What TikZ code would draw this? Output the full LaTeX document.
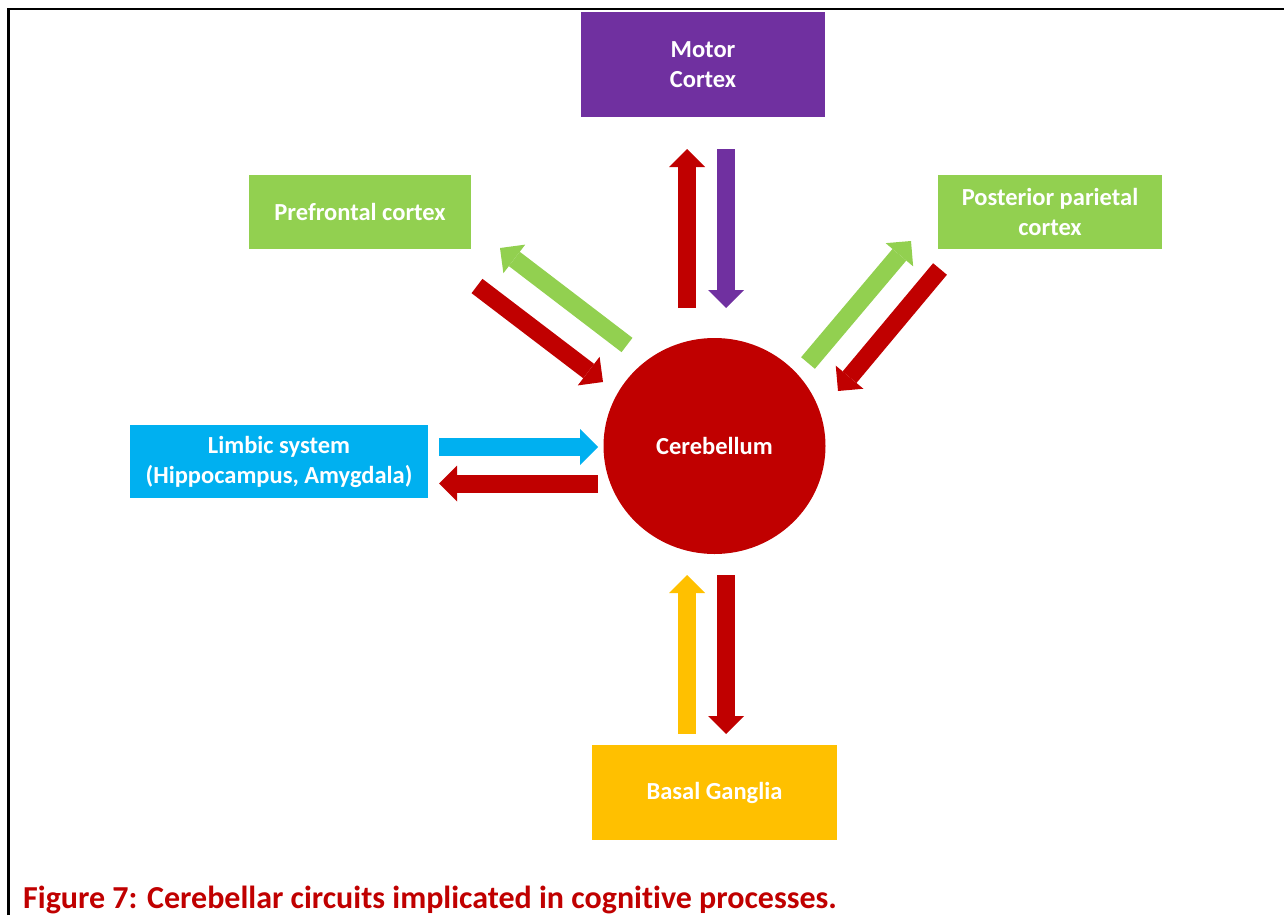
\documentclass[tikz,border=0pt]{standalone}
\usepackage{fontspec}
\setmainfont[Ligatures=NoCommon]{Carlito}
\usetikzlibrary{arrows.meta,shapes.geometric}
\definecolor{cred}{HTML}{C00000}
\definecolor{cpurple}{HTML}{7030A0}
\definecolor{cgreen}{HTML}{92D050}
\definecolor{cblue}{HTML}{00B0F0}
\definecolor{cyellow}{HTML}{FFC000}
\begin{document}
\begin{tikzpicture}[x=1pt,y=-1pt,
  box/.style={rectangle, inner sep=0pt, text=white, align=center,
    font=\fontsize{24.5}{30}\selectfont\bfseries},
  barrow/.style={line width=18pt, -{Triangle[width=36pt,length=18pt,line width=0pt]}}]
\useasboundingbox (0,0) rectangle (1284,915);
% frame
\draw[line width=2.5pt] (8.5,915) -- (8.5,9) -- (1284,9);
% boxes
\node[box, fill=cpurple, minimum width=244pt, minimum height=105pt] (motor) at (703,64.5) {Motor\\Cortex};
\node[box, fill=cgreen, minimum width=222pt, minimum height=74pt] (pref) at (360,212) {Prefrontal cortex};
\node[box, fill=cgreen, minimum width=224pt, minimum height=74pt] (post) at (1050,212) {Posterior parietal\\cortex};
\node[box, fill=cblue, minimum width=298pt, minimum height=73pt] (limb) at (279,461.5) {Limbic system\\(Hippocampus, Amygdala)};
\node[box, fill=cyellow, minimum width=245pt, minimum height=95pt] (basal) at (714.5,792.5) {Basal Ganglia};
\node[ellipse, fill=cred, minimum width=222pt, minimum height=216pt, inner sep=0pt, text=white,
  font=\fontsize{24.5}{30}\selectfont\bfseries] (cer) at (714.5,446) {Cerebellum};
% arrow end points
\coordinate (m1a) at (687,308); \coordinate (m1b) at (687,149);
\coordinate (m2a) at (726,149); \coordinate (m2b) at (726,308);
\coordinate (b1a) at (687,734); \coordinate (b1b) at (687,575);
\coordinate (b2a) at (726,575); \coordinate (b2b) at (726,734);
\coordinate (l1a) at (439,447); \coordinate (l1b) at (598,447);
\coordinate (l2a) at (598,483.5); \coordinate (l2b) at (439,483.5);
\coordinate (p1a) at (627,345); \coordinate (p1b) at (500,248);
\coordinate (p2a) at (477,286); \coordinate (p2b) at (603,382);
\coordinate (q1a) at (808,363); \coordinate (q1b) at (911,241);
\coordinate (q2a) at (940,269); \coordinate (q2b) at (838,391);
% arrows
\draw[barrow, cred] (m1a) -- (m1b);
\draw[barrow, cpurple] (m2a) -- (m2b);
\draw[barrow, cyellow] (b1a) -- (b1b);
\draw[barrow, cred] (b2a) -- (b2b);
\draw[barrow, cblue] (l1a) -- (l1b);
\draw[barrow, cred] (l2a) -- (l2b);
\draw[barrow, cgreen] (p1a) -- (p1b);
\draw[barrow, cred] (p2a) -- (p2b);
\draw[barrow, cgreen] (q1a) -- (q1b);
\draw[barrow, cred] (q2a) -- (q2b);
% caption
\node[anchor=base west, inner sep=0pt, text=cred, font=\fontsize{32}{36}\selectfont\bfseries] (cap) at (23,908)
  {Figure 7: Cerebellar circuits implicated in cognitive processes.};
\end{tikzpicture}
\end{document}
